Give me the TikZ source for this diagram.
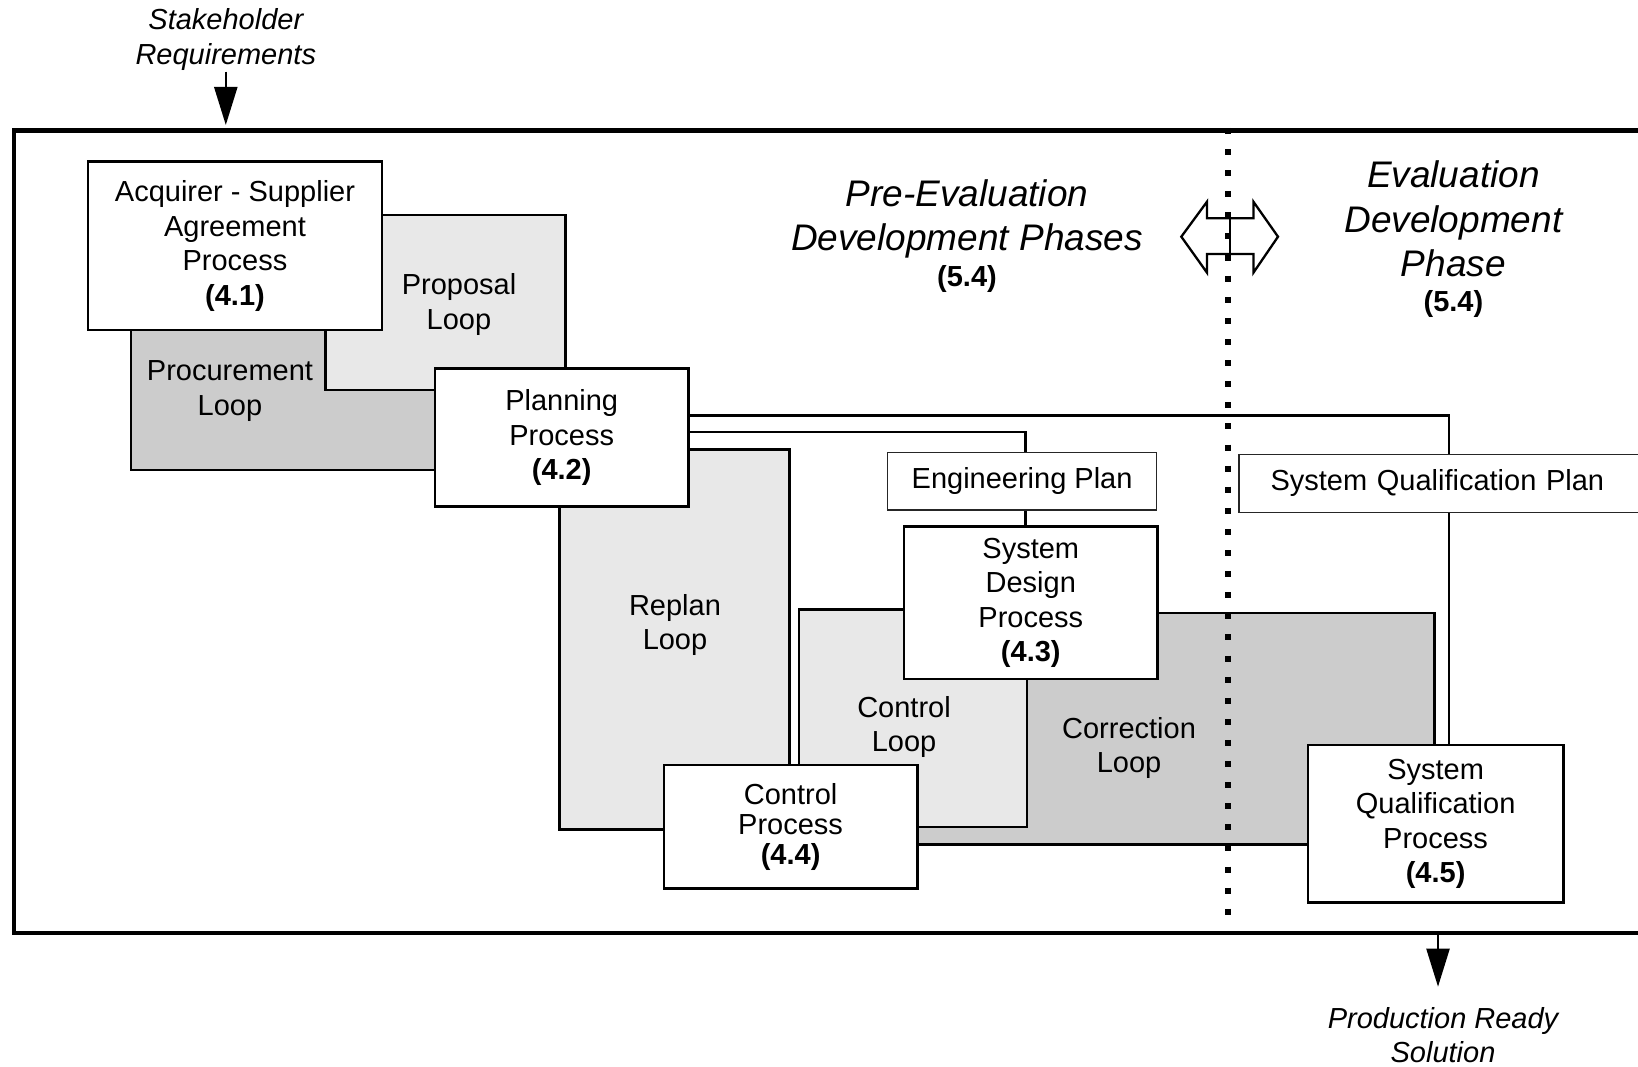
\documentclass[tikz,border=0pt]{standalone}
\usepackage{fontspec}
\setmainfont{Liberation Sans}
\usetikzlibrary{arrows.meta}
\definecolor{loopl}{HTML}{E8E8E8}
\definecolor{loopd}{HTML}{CCCCCC}
\newcommand\fsbody{\fontsize{29}{34.5}\selectfont}
\newcommand\fscp{\fontsize{29}{30}\selectfont}
\newcommand\fsbig{\fontsize{37}{44.5}\selectfont\itshape}
\newcommand\fsnote{\fontsize{29}{34.5}\selectfont\itshape}
\begin{document}
\begin{tikzpicture}[x=1pt,y=-1pt,
  box/.style={draw,line width=2.6pt,fill=white,align=center,inner sep=0pt,font=\fsbody},
  planbox/.style={draw=black!85,line width=1.4pt,fill=white,inner sep=0pt,font=\fsbody},
  loopl/.style={draw,line width=2.6pt,fill=loopl},
  loopd/.style={draw,line width=2.6pt,fill=loopd},
  looptxt/.style={align=center,font=\fsbody,inner sep=0pt},
  conn/.style={line width=2.3pt},
  inarrow/.style={line width=2.3pt,-{Triangle[length=38pt,width=23pt]}},
  note/.style={align=center,font=\fsnote,inner sep=0pt},
  phase/.style={align=center,font=\fsbig,inner sep=0pt},
  phnum/.style={font=\fsbody\bfseries,inner sep=0pt}]
\useasboundingbox (0,0) rectangle (1638,1067);
\clip (0,0) rectangle (1638,1067);

% outer frame
\draw[line width=4.5pt] (14.2,130.7) rectangle (1700,933);

% loops (left)
\path[loopd] (130.9,300) rectangle (450,470);
\path[loopl] (325.3,215) rectangle (565.6,390);
\node[looptxt] (procl) at (230,391) {Procurement\\Loop};
\node[looptxt] (propl) at (459,304.5) {Proposal\\Loop};

% acquirer
\node[box,minimum width=294pt,minimum height=168.3pt] (acq) at (235,245.85)
  {Acquirer - Supplier\\Agreement\\Process\\\textbf{(4.1)}};

% connectors from planning
\coordinate (u1) at (1449.3,415.6);
\coordinate (u2) at (1025.4,431.7);

% planning anchor helper (the box itself is drawn later, on top)
\path (561.7,437.65) node[minimum width=253.4pt,minimum height=138.1pt,inner sep=0pt] (planpos) {};
\draw[conn] (planpos.east |- u1) -| (u1) -- (u1 |- 0,745);
\draw[conn] (planpos.east |- u2) -| (u2) -- (u2 |- 0,526.7);

% loops (right)
\path[loopl] (559.4,449.3) rectangle (789.3,829.3);
\path[loopd] (900,612.8) rectangle (1434.5,844.3);
\path[loopl] (799,609.6) rectangle (1026.8,826.8);
\node[looptxt] (repl) at (675,625) {Replan\\Loop};
\node[looptxt] (ctll) at (904,727) {Control\\Loop};
\node[looptxt] (corl) at (1129,748) {Correction\\Loop};

% phase separator
\draw[line width=2.3pt,line join=miter]
  (1181.3,236.7) -- (1207,201.7) -- (1207,218.3) -- (1253.4,218.3) -- (1253.4,201.7)
  -- (1278,236.7) -- (1253.4,272.7) -- (1253.4,254) -- (1207,254) -- (1207,272.7) -- cycle;
\draw[line width=2.3pt] (1229.7,218.3) -- (1229.7,254);
\draw[line width=6pt,line cap=butt,dash pattern=on 6pt off 15.1pt] (1227.5,128) -- (1227.5,922);

% boxes
\node[box,minimum width=253.4pt,minimum height=138.1pt] (plan) at (561.7,437.65)
  {Planning\\Process\\\textbf{(4.2)}};
\node[planbox,minimum width=269.2pt,minimum height=57.7pt] (eng) at (1022.1,481.05) {Engineering Plan};
\node[box,minimum width=253.6pt,minimum height=152.4pt] (sd) at (1030.8,602.9)
  {System\\Design\\Process\\\textbf{(4.3)}};
\node[box,font=\fscp,minimum width=253.6pt,minimum height=123.7pt] (cp) at (790.6,826.65)
  {Control\\Process\\\textbf{(4.4)}};
\node[planbox,anchor=west,inner xsep=31.5pt,text width=378.7pt,align=left,minimum height=58pt]
  (sqplan) at (1238.3,483.3) {System Qualification Plan};
\node[box,minimum width=255.2pt,minimum height=157.7pt] (sqp) at (1435.6,823.85)
  {System\\Qualification\\Process\\\textbf{(4.5)}};

% phase titles
\node[phase] (pre) at (967,219) {Pre-Evaluation\\Development Phases};
\node[phnum] (pren) at (967,279) {(5.4)};
\node[phase] (ev) at (1453.4,219) {Evaluation\\Development\\Phase};
\node[phnum] (evn) at (1453.4,304) {(5.4)};

% inputs / outputs
\node[note] (stake) at (225.8,39.5) {Stakeholder\\Requirements};
\coordinate (stakein) at (225.8,125);
\draw[inarrow] (stake.south |- 0,71.7) -- (stakein);
\node[note] (prod) at (1443,1035) {Production Ready\\Solution};
\coordinate (prodout) at (1438,935);
\draw[inarrow] (prodout) -- (prodout |- 0,986.7);
\end{tikzpicture}
\end{document}
